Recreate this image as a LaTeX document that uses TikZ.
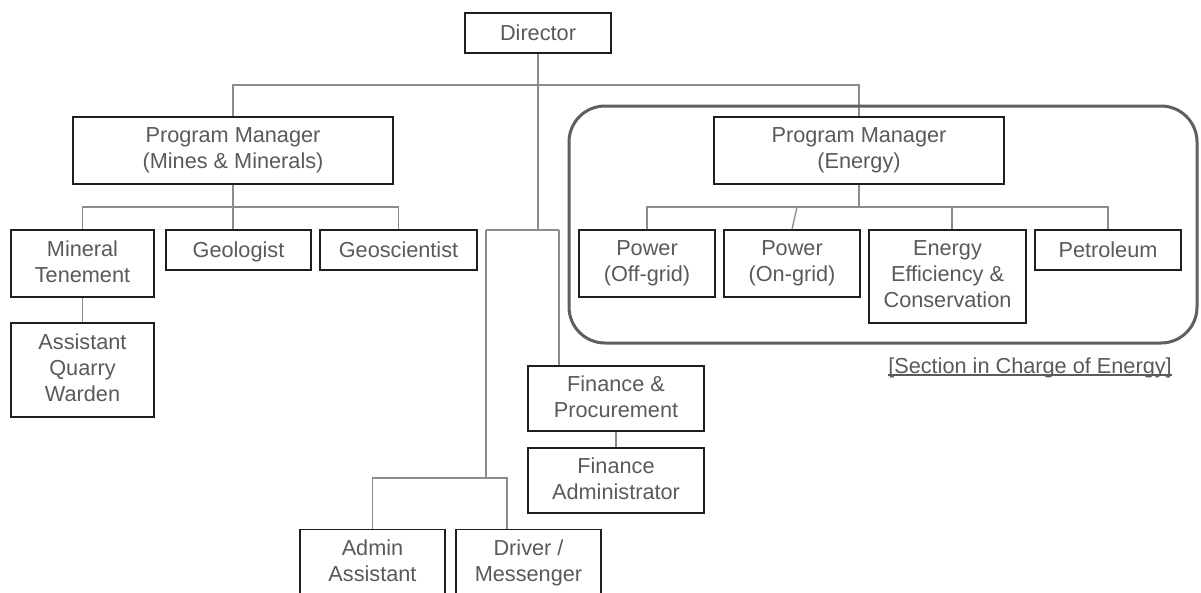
\documentclass[tikz,border=0pt]{standalone}
\usepackage{fontspec}
\setmainfont{Liberation Sans}
\definecolor{txt}{HTML}{5A5A5A}
\definecolor{connc}{HTML}{8C8C8C}
\definecolor{framec}{HTML}{5F5F5F}
\definecolor{boxc}{HTML}{1E1E1E}
\begin{document}
\begin{tikzpicture}[x=1pt,y=-1pt,
  box/.style={draw=boxc, line width=1.3pt, fill=white, text=txt, align=center,
    inner sep=0pt, font=\fontsize{21.7}{26}\selectfont,
    execute at begin node={\rule{0pt}{20.1pt}}, execute at end node={\vphantom{g}}},
  conn/.style={draw=connc, line width=1.3pt},
  grp/.style={draw=framec, line width=3pt, rounded corners=36pt}]
\clip (0,0) rectangle (1201,592);
\fill[white] (0,0) rectangle (1201,592);

% nodes
\node[box, minimum width=146pt, minimum height=40pt] (dir) at (538,33) {Director};
\node[box, minimum width=320pt, minimum height=67pt] (pmm) at (233,150.5) {Program Manager\\(Mines \& Minerals)};
\node[box, minimum width=290pt, minimum height=67pt] (pme) at (859,150.5) {Program Manager\\(Energy)};
\node[box, minimum width=143pt, minimum height=67pt] (mt) at (82.5,263.5) {Mineral\\Tenement};
\node[box, minimum width=145pt, minimum height=40pt] (geo) at (238.5,250) {Geologist};
\node[box, minimum width=157pt, minimum height=40pt] (gsc) at (398.5,250) {Geoscientist};
\node[box, minimum width=143pt, minimum height=94pt] (aqw) at (82.5,370) {Assistant\\Quarry\\Warden};
\node[box, minimum width=136pt, minimum height=67pt] (off) at (647,263.5) {Power\\(Off-grid)};
\node[box, minimum width=136pt, minimum height=67pt] (on) at (792,263.5) {Power\\(On-grid)};
\node[box, minimum width=157pt, minimum height=93pt] (eec) at (947.5,276.5) {Energy\\Efficiency \&\\Conservation};
\node[box, minimum width=146pt, minimum height=40pt] (pet) at (1108,250) {Petroleum};
\node[box, minimum width=176pt, minimum height=65pt] (fp) at (616,398.5) {Finance \&\\Procurement};
\node[box, minimum width=176pt, minimum height=65pt] (fa) at (616,480.5) {Finance\\Administrator};
\node[box, minimum width=145pt, minimum height=67pt, anchor=north] (adm) at (372.5,529) {Admin\\Assistant};
\node[box, minimum width=145pt, minimum height=67pt, anchor=north] (drv) at (528.5,529) {Driver /\\Messenger};

% connector coordinates
\coordinate (top) at (538,85);
\coordinate (t1) at (538,230);
\coordinate (tl) at (486,230);
\coordinate (tr) at (559,230);
\coordinate (ab) at (486,478);
\coordinate (dj) at (507,529);
\coordinate (mb) at (233,207);
\coordinate (eb) at (859,207);
\coordinate (ej) at (952,207);
\coordinate (oj) at (797,207);

% connectors
\draw[conn] (pmm.north) |- (top) -| (pme.north);
\draw[conn] (dir.south) -- (t1);
\draw[conn] (tl) -- (tr);
\draw[conn] (tr) -- (tr |- fp.north);
\draw[conn] (tl) -- (ab);
\draw[conn] (adm.north) |- (ab) -| (dj);
\draw[conn] (pmm.south) -- (mb);
\draw[conn] (mt.north) |- (mb) -| (gsc.north);
\draw[conn] (mb) -- (geo.north -| mb);
\draw[conn] (mt.south) -- (aqw.north);
\draw[conn] (pme.south) -- (eb);
\draw[conn] (off.north) |- (eb) -| (pet.north);
\draw[conn] (ej) -- (eec.north -| ej);
\draw[conn] (oj) -- (on.north);
\draw[conn] (fp.south) -- (fa.north);

% group frame
\draw[grp] (569,106) rectangle (1197,343);

% label
\node[text=txt, inner sep=0pt, anchor=base, font=\fontsize{21.7}{26}\selectfont] (lbl) at (1030,373) {[Section in Charge of Energy]};
\draw[txt, line width=1.2pt] ([yshift=-2pt]lbl.base west) -- ([yshift=-2pt]lbl.base east);
\end{tikzpicture}
\end{document}
